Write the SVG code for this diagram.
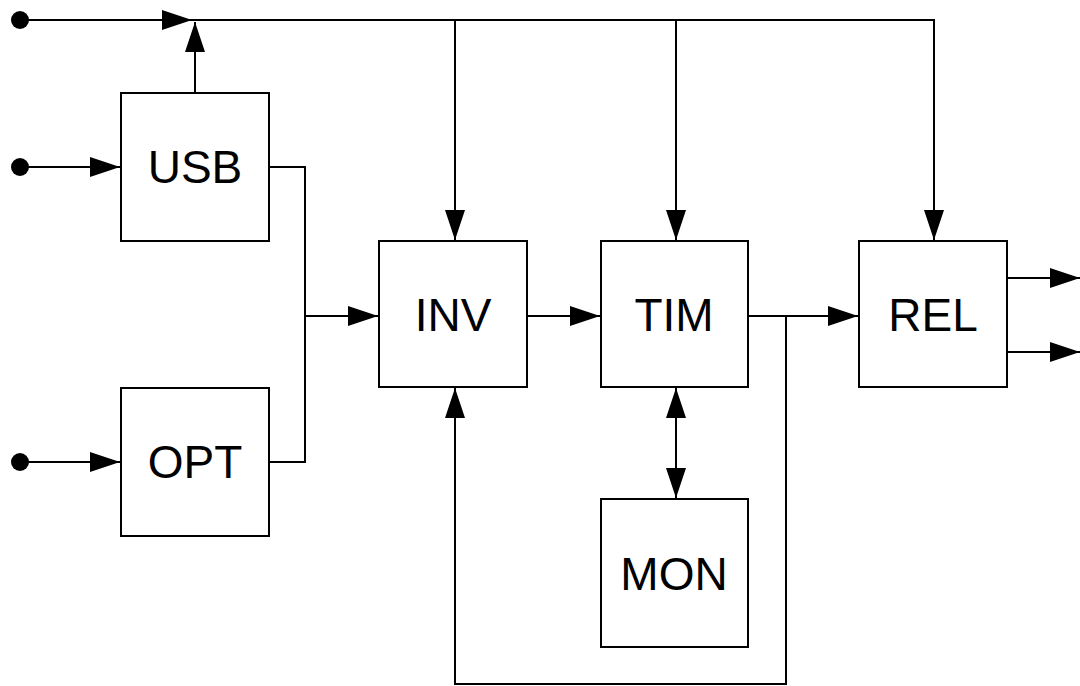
<svg xmlns="http://www.w3.org/2000/svg" width="1080" height="686" viewBox="0 0 1080 686">
<style>
.box{fill:#fff;stroke:#000;stroke-width:2}
.lbl{font-family:"Liberation Sans",Arial,sans-serif;font-size:46px;text-anchor:middle;fill:#000}
.w{fill:none;stroke:#000;stroke-width:2}
</style>
<defs>
<marker id="ah" viewBox="0 0 30 20" refX="30" refY="10" markerWidth="30" markerHeight="20" markerUnits="userSpaceOnUse" orient="auto-start-reverse">
<path d="M0,0 L30,10 L0,20 Z" fill="#000"/>
</marker>
</defs>
<rect width="1080" height="686" fill="#fff"/>
<g id="connectors">
<circle cx="20" cy="20" r="9" fill="#000"/>
<circle cx="20" cy="167" r="9" fill="#000"/>
<circle cx="20" cy="462" r="9" fill="#000"/>
<path class="w" d="M20,20 H192" marker-end="url(#ah)"/>
<path class="w" d="M192,20 H935"/>
<path class="w" d="M195,93 V22" marker-end="url(#ah)"/>
<path class="w" d="M20,167 H120" marker-end="url(#ah)"/>
<path class="w" d="M20,462 H120" marker-end="url(#ah)"/>
<path class="w" d="M269,167 H305 V462 H269"/>
<path class="w" d="M305,316 H378" marker-end="url(#ah)"/>
<path class="w" d="M455,20 V240" marker-end="url(#ah)"/>
<path class="w" d="M676,20 V240" marker-end="url(#ah)"/>
<path class="w" d="M934,20 V240" marker-end="url(#ah)"/>
<path class="w" d="M527,316 H600" marker-end="url(#ah)"/>
<path class="w" d="M748,316 H858" marker-end="url(#ah)"/>
<path class="w" d="M786,316 V684 H455 V388" marker-end="url(#ah)"/>
<path class="w" d="M676,388 V498" marker-start="url(#ah)" marker-end="url(#ah)"/>
<path class="w" d="M1007,278 H1080" marker-end="url(#ah)"/>
<path class="w" d="M1007,352 H1080" marker-end="url(#ah)"/>
</g>
<g id="USB"><rect class="box" x="121" y="93" width="148" height="148"/><text class="lbl" x="195" y="183">USB</text></g>
<g id="OPT"><rect class="box" x="121" y="388" width="148" height="148"/><text class="lbl" x="195" y="478">OPT</text></g>
<g id="INV"><rect class="box" x="379" y="241" width="148" height="146"/><text class="lbl" x="453" y="331">INV</text></g>
<g id="TIM"><rect class="box" x="601" y="241" width="147" height="146"/><text class="lbl" x="674" y="331">TIM</text></g>
<g id="REL"><rect class="box" x="859" y="241" width="148" height="146"/><text class="lbl" x="933" y="331">REL</text></g>
<g id="MON"><rect class="box" x="601" y="499" width="147" height="148"/><text class="lbl" x="674" y="590">MON</text></g>
</svg>
